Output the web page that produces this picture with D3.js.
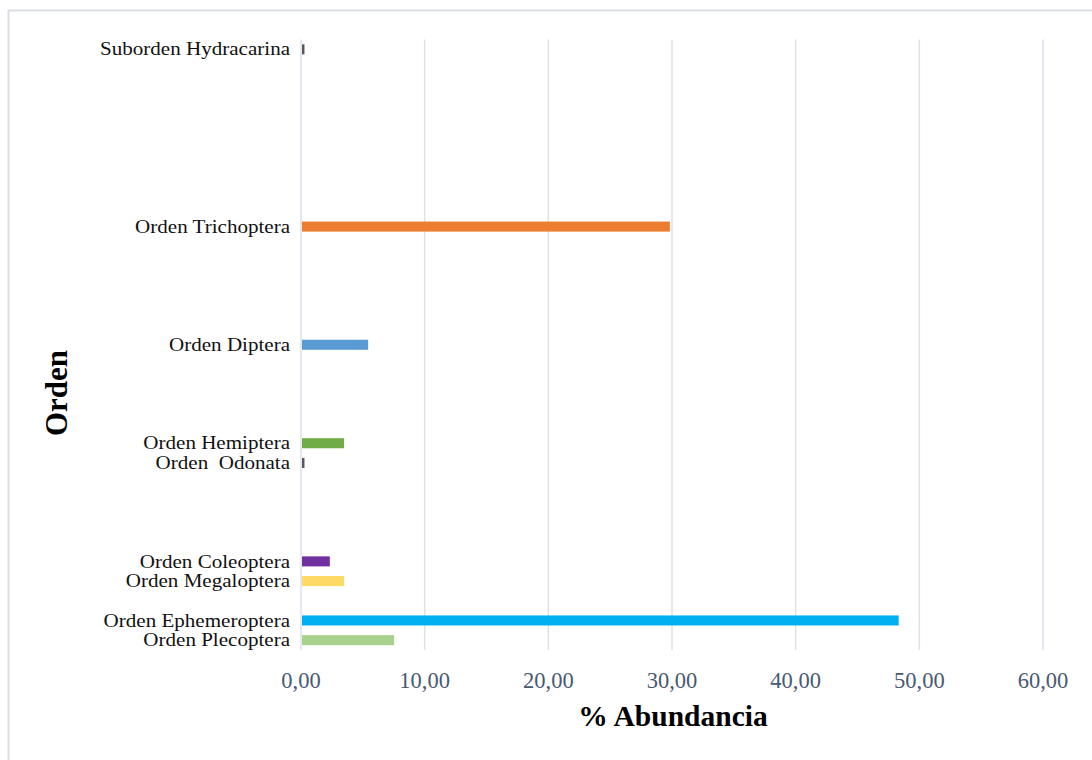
<!DOCTYPE html>
<html>
<head>
<meta charset="utf-8">
<script src="https://cdn.jsdelivr.net/npm/d3@7"></script>
<style>
  body { margin: 0; background: #fff; }
  text { font-family: "Liberation Serif", "Times New Roman", serif; white-space: pre; }
</style>
</head>
<body>
<script>
// data
const categories = ["Orden Plecoptera", "Orden Ephemeroptera", "Orden Megaloptera", "Orden Coleoptera",
  "Orden  Odonata", "Orden Hemiptera", "Orden Diptera", "Orden Trichoptera", "Suborden Hydracarina"];
const slots = [1, 2, 4, 5, 10, 11, 16, 22, 31];   // category row (blank rows in between)
const values = [7.45, 48.25, 3.4, 2.25, 0.2, 3.4, 5.35, 29.75, 0.2];
const colors = ["#a9d18e", "#00b0f0", "#ffd966", "#7030a0", "#595959", "#70ad47", "#5b9bd5", "#ed7d31", "#595959"];
const xTicks = [0, 10, 20, 30, 40, 50, 60];
const nSlots = 31;

const W = 1092, H = 760;
const svg = d3.select("body").append("svg").attr("width", W).attr("height", H);

// chart frame
svg.append("rect")
  .attr("x", 8.5).attr("y", 10.5)
  .attr("width", 1200).attr("height", 900)
  .attr("fill", "none").attr("stroke", "#d9dee6").attr("stroke-width", 2);

const x = d3.scaleLinear().domain([0, 60]).range([301, 1043]);
const y = d3.scaleBand().domain(d3.range(1, nSlots + 1)).range([650, 39.5]).paddingInner(0.49).paddingOuter(0.245);

// gridlines
svg.append("g").selectAll("line").data(xTicks).enter().append("line")
  .attr("x1", d => x(d)).attr("x2", d => x(d))
  .attr("y1", 39.5).attr("y2", 650)
  .attr("stroke", "#dde1e8").attr("stroke-width", 1.5);

// bars
svg.append("g").selectAll("rect").data(values).enter().append("rect")
  .attr("x", x(0) + 1)
  .attr("y", (d, i) => y(slots[i]))
  .attr("width", d => x(d) - x(0))
  .attr("height", y.bandwidth())
  .attr("fill", (d, i) => colors[i]);

// category labels (slightly widened, like the original)
svg.append("g").selectAll("text").data(categories).enter().append("text")
  .attr("transform", (d, i) => `translate(290,${y(slots[i]) + y.bandwidth() / 2}) scale(1.17,1)`)
  .attr("dy", "0.34em")
  .attr("text-anchor", "end")
  .attr("font-size", 18)
  .attr("fill", "#111")
  .text(d => d);

// x tick labels
svg.append("g").selectAll("text").data(xTicks).enter().append("text")
  .attr("x", d => x(d))
  .attr("y", 688)
  .attr("text-anchor", "middle")
  .attr("font-size", 22.5)
  .attr("fill", "#485a72")
  .text(d => d3.format(".2f")(d).replace(".", ","));

// axis titles
svg.append("text")
  .attr("x", 673).attr("y", 726)
  .attr("text-anchor", "middle")
  .attr("font-size", 29.5).attr("font-weight", "bold")
  .attr("fill", "#000")
  .text("% Abundancia");

svg.append("text")
  .attr("transform", "translate(67,393) rotate(-90)")
  .attr("text-anchor", "middle")
  .attr("font-size", 31).attr("font-weight", "bold")
  .attr("fill", "#000")
  .text("Orden");
</script>
</body>
</html>
